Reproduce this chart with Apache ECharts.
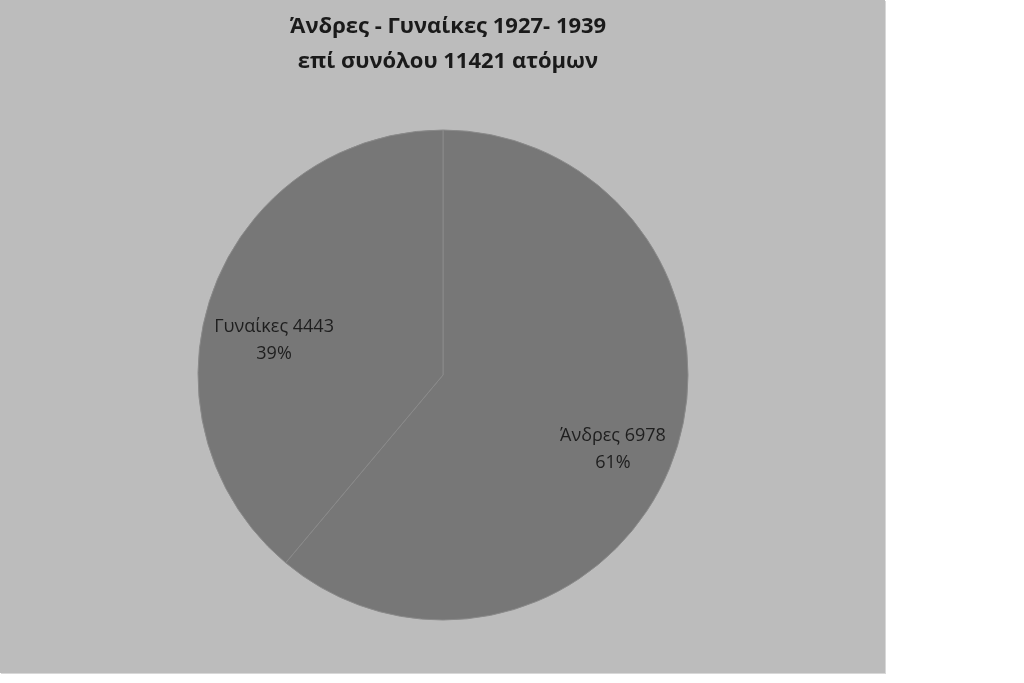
<!DOCTYPE html>
<html><head><meta charset="utf-8">
<script src="https://cdn.jsdelivr.net/npm/echarts@6/dist/echarts.min.js"></script>
<style>
html,body{margin:0;padding:0;background:#fff;width:1024px;height:683px;overflow:hidden}
#chart{position:absolute;left:0;top:0;width:885px;height:673px;background:#bcbcbc;box-shadow:1px 1px 0 #d8d8d8}
</style></head><body>
<div id="chart"></div>
<script>
const titleLines = ['Άνδρες - Γυναίκες 1927- 1939', 'επί συνόλου 11421 ατόμων'];
const categories = ['Άνδρες', 'Γυναίκες'];
const values = [6978, 4443];
const labelOffsets = [[52, 32], [-51, 8]];

const chart = echarts.init(document.getElementById('chart'), null, {renderer: 'canvas'});
chart.setOption({
  backgroundColor: '#bcbcbc',
  animation: false,
  title: {
    text: titleLines.join('\n'),
    left: 443, top: 4, textAlign: 'center',
    textStyle: {fontFamily: 'Open Sans', fontWeight: 'bold', fontSize: 22, lineHeight: 35, color: '#1a1a1a'}
  },
  series: [{
    type: 'pie',
    center: [443, 375],
    radius: [0, 245],
    startAngle: 90,
    clockwise: true,
    percentPrecision: 0,
    itemStyle: {color: '#777777', borderColor: '#8a8a8a', borderWidth: 1},
    label: {
      position: 'inside',
      formatter: '{b} {c}\n{d}%',
      fontFamily: 'Open Sans', fontSize: 18, lineHeight: 27, color: '#1e1e1e', align: 'center'
    },
    labelLine: {show: false},
    emphasis: {disabled: true},
    data: categories.map((c, i) => ({name: c, value: values[i], label: {offset: labelOffsets[i]}}))
  }]
});
</script>
</body></html>
